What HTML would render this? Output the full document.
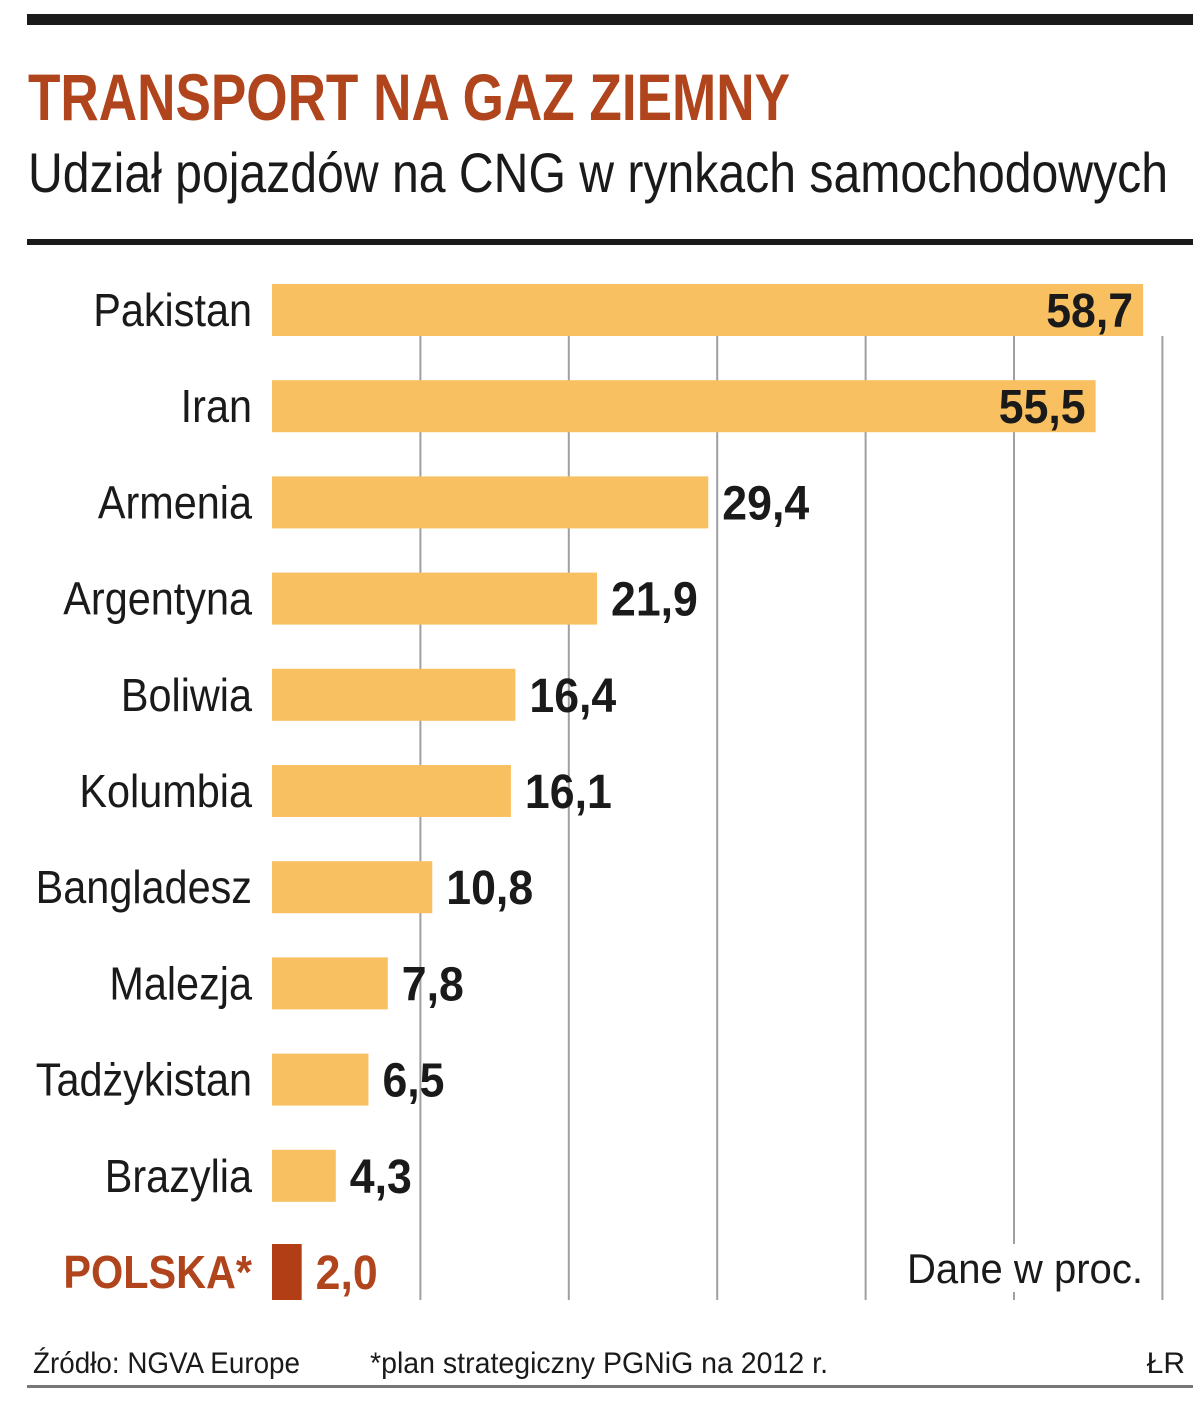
<!DOCTYPE html>
<html><head><meta charset="utf-8"><style>
html,body{margin:0;padding:0;background:#fff;}
svg{display:block;font-family:"Liberation Sans Narrow","Liberation Sans",sans-serif;}
</style></head><body>
<svg id="chart" width="1200" height="1415" viewBox="0 0 1200 1415">
<rect x="27" y="14" width="1166" height="11" fill="#1a1a1a"/>
<text x="28" y="120" font-size="66" font-weight="bold" fill="#b0441c" textLength="762" lengthAdjust="spacingAndGlyphs">TRANSPORT NA GAZ ZIEMNY</text>
<text x="28" y="192" font-size="56" fill="#1a1a1a" textLength="1140" lengthAdjust="spacingAndGlyphs">Udział pojazdów na CNG w rynkach samochodowych</text>
<rect x="27" y="239" width="1166" height="6" fill="#1a1a1a"/>
<g id="grid"></g>
<g id="bars"></g>
<rect x="900" y="1244" width="250" height="48" fill="#fff"/>
<text x="1143" y="1283" font-size="42" fill="#1a1a1a" text-anchor="end" textLength="236" lengthAdjust="spacingAndGlyphs">Dane w proc.</text>
<text x="33" y="1373" font-size="30" fill="#1a1a1a" textLength="267" lengthAdjust="spacingAndGlyphs">Źródło: NGVA Europe</text>
<text x="370" y="1373" font-size="30" fill="#1a1a1a" textLength="458" lengthAdjust="spacingAndGlyphs">*plan strategiczny PGNiG na 2012 r.</text>
<text x="1185" y="1373" font-size="30" fill="#1a1a1a" text-anchor="end">ŁR</text>
<rect x="27" y="1385" width="1166" height="3" fill="#777"/>
</svg>
<script>
const categories = ["Pakistan","Iran","Armenia","Argentyna","Boliwia","Kolumbia","Bangladesz","Malezja","Tadżykistan","Brazylia","POLSKA*"];
const values = [58.7,55.5,29.4,21.9,16.4,16.1,10.8,7.8,6.5,4.3,2.0];
const valueLabels = ["58,7","55,5","29,4","21,9","16,4","16,1","10,8","7,8","6,5","4,3","2,0"];
const gridTicks = [10,20,30,40,50,60];

const NS = "http://www.w3.org/2000/svg";
const x0 = 272, pxPerUnit = 14.84;
const xScale = v => x0 + v * pxPerUnit;
const rowY = i => 310 + i * 96.2;
const barH = 52;

const grid = document.getElementById("grid");
gridTicks.forEach(t => {
  const l = document.createElementNS(NS, "line");
  
  
  l.setAttribute("x1", xScale(t)); l.setAttribute("x2", xScale(t));
  l.setAttribute("y1", 336); l.setAttribute("y2", 1300);
  l.setAttribute("stroke", "#a0a0a0"); l.setAttribute("stroke-width", "2");
  grid.appendChild(l);
});

const g = document.getElementById("bars");
categories.forEach((c, i) => {
  const y = rowY(i);
  const isPl = c === "POLSKA*";
  const lab = document.createElementNS(NS, "text");
  
  
  lab.setAttribute("x", 0); lab.setAttribute("y", 0);
  lab.setAttribute("transform", "translate(252," + (y + 16) + ") scale(0.9,1)");
  lab.setAttribute("text-anchor", "end");
  lab.setAttribute("font-size", "46");
  if (isPl) { lab.setAttribute("font-weight", "bold"); lab.setAttribute("fill", "#b0441c"); }
  else lab.setAttribute("fill", "#1a1a1a");
  lab.textContent = c;
  g.appendChild(lab);

  const r = document.createElementNS(NS, "rect");
  
  
  r.setAttribute("x", x0);
  r.setAttribute("y", isPl ? y - 28 : y - barH / 2);
  r.setAttribute("width", xScale(values[i]) - x0);
  r.setAttribute("height", isPl ? 56 : barH);
  r.setAttribute("fill", isPl ? "#b23e16" : "#f8c060");
  g.appendChild(r);

  const v = document.createElementNS(NS, "text");
  
  
  const inside = values[i] > 50;
  const end = xScale(values[i]);
  const vx = inside ? end - 10 : end + 14;
  v.setAttribute("x", 0); v.setAttribute("y", 0);
  v.setAttribute("transform", "translate(" + vx + "," + (y + 17) + ") scale(0.93,1)");
  v.setAttribute("text-anchor", inside ? "end" : "start");
  v.setAttribute("font-size", "48");
  v.setAttribute("font-weight", "bold");
  v.setAttribute("fill", isPl ? "#b0441c" : "#1a1a1a");
  v.textContent = valueLabels[i];
  g.appendChild(v);
});
</script>
</body></html>
